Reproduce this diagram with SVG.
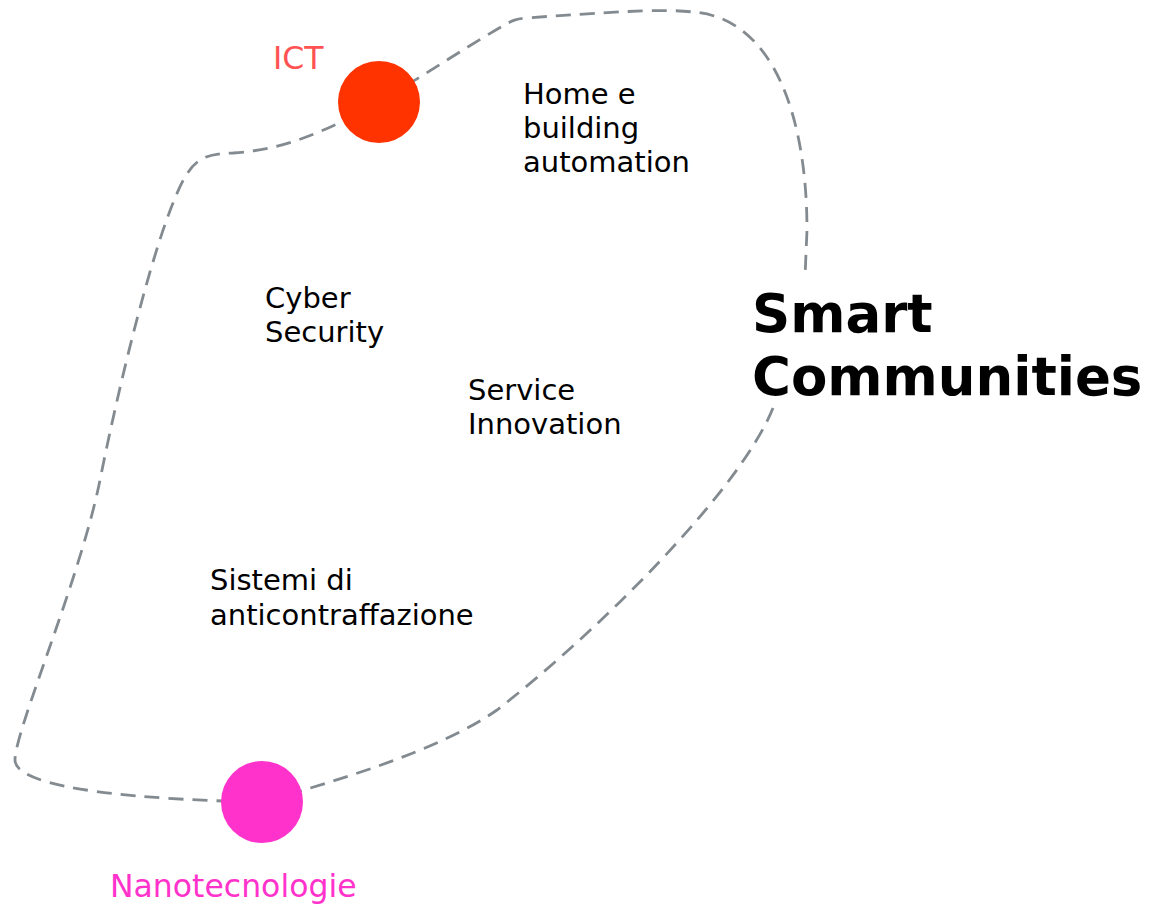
<svg xmlns="http://www.w3.org/2000/svg" width="1149" height="906" viewBox="0 0 1149 906">
<style>
.t{font-family:"DejaVu Sans",Verdana,sans-serif;font-size:29px;fill:#000}
.lbl{font-family:"DejaVu Sans",Verdana,sans-serif;font-size:31.5px}
.big{font-family:"DejaVu Sans",Verdana,sans-serif;font-size:53px;font-weight:bold;fill:#000}
.edge{fill:none;stroke:#838b90;stroke-width:2.8;stroke-dasharray:15 9;stroke-linecap:butt}
</style>
<rect width="1149" height="906" fill="#fff"/>
<g id="connectors">
<path class="edge" d="M 773 408 C 740 490 600 630 497 710 C 440 750 340 780 262 802 C 150 800 15 790 15 760 C 15 730 80 580 100 480 C 120 380 150 260 173 203 C 190 160 200 154 233 153 C 280 150 320 135 379 102 C 420 78 480 38 510 22 Q 515 19 525 18 C 600 13 660 8 693 12 C 775 18 807 120 807 230 L 805 277"/>
</g>
<g id="ict">
<circle cx="379" cy="102" r="41" fill="#ff3300"/>
<text class="lbl" x="273" y="69" fill="#ff5252">ICT</text>
</g>
<g id="nanotecnologie">
<circle cx="262" cy="802" r="41" fill="#ff33cc"/>
<text class="lbl" x="110" y="897" fill="#ff33cc">Nanotecnologie</text>
</g>
<g id="smart-communities">
<text class="big" x="752" y="332">Smart</text>
<text class="big" x="752" y="395">Communities</text>
</g>
<g id="home-building">
<text class="t" x="523" y="104">Home e</text>
<text class="t" x="523" y="138">building</text>
<text class="t" x="523" y="172">automation</text>
</g>
<g id="cyber-security">
<text class="t" x="265" y="308">Cyber</text>
<text class="t" x="265" y="342">Security</text>
</g>
<g id="service-innovation">
<text class="t" x="468" y="400">Service</text>
<text class="t" x="468" y="434">Innovation</text>
</g>
<g id="sistemi">
<text class="t" x="210" y="590">Sistemi di</text>
<text class="t" x="210" y="625">anticontraffazione</text>
</g>
</svg>
